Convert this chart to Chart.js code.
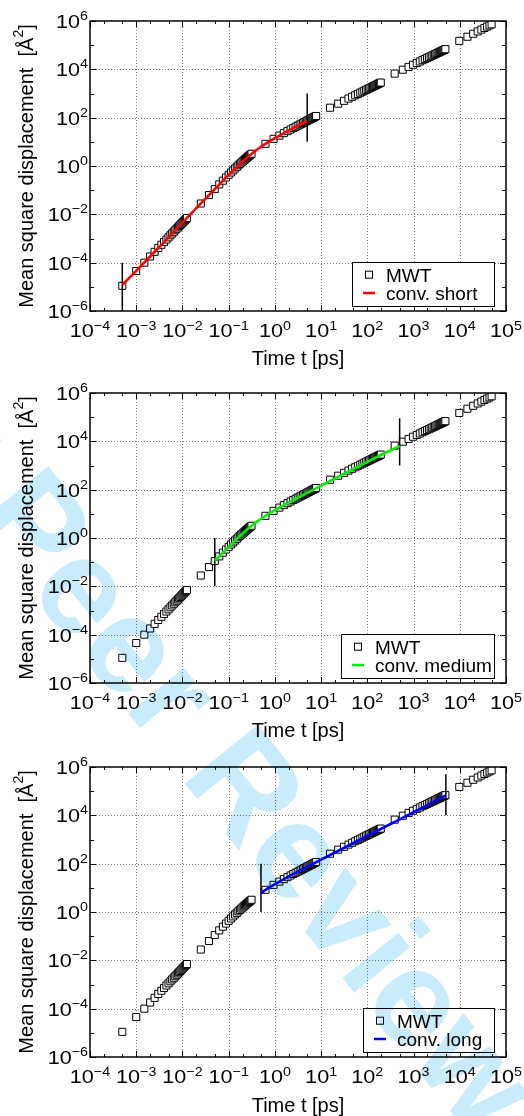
<!DOCTYPE html>
<html><head><meta charset="utf-8">
<script src="https://cdn.jsdelivr.net/npm/chart.js@4/dist/chart.umd.min.js"></script>
<style>
html,body{margin:0;padding:0;background:#fff}
body{width:524px;height:1116px;overflow:hidden;position:relative}
canvas.p{position:absolute;left:0}
#wm{position:absolute;left:0;top:0;pointer-events:none;mix-blend-mode:multiply}
</style></head><body>
<canvas class="p" id="c1" width="524" height="372" style="top:0"></canvas>
<canvas class="p" id="c2" width="524" height="372" style="top:372px"></canvas>
<canvas class="p" id="c3" width="524" height="370" style="top:746px"></canvas>
<canvas id="wm" width="524" height="1116"></canvas>
<script>
// ---------------- data ----------------
const mwtTime = [
  0.0005,0.001,0.0015,0.002,0.0025,0.003,0.0035,0.004,0.0045,0.005,0.0055,0.006,0.0065,0.007,0.0075,0.008,0.0085,0.009,0.0095,0.01,0.0105,0.011,0.0115,0.012,0.0125,
  0.025,0.0375,0.05,0.0625,0.075,0.0875,0.1,0.1125,0.125,0.1375,0.15,0.1625,0.175,0.1875,0.2,0.2125,0.225,0.2375,0.25,0.2625,0.275,0.2875,0.3,0.3125,
  0.625,0.9375,1.25,1.5625,1.875,2.1875,2.5,2.8125,3.125,3.4375,3.75,4.0625,4.375,4.6875,5,5.3125,5.625,5.9375,6.25,6.5625,6.875,7.1875,7.5,7.8125,
  15.6,23.4,31.3,39.1,46.9,54.7,62.5,70.3,78.1,85.9,93.8,101.6,109.4,117.2,125,132.8,140.6,148.4,156.3,164.1,171.9,179.7,187.5,195.3,
  391,586,781,977,1172,1367,1563,1758,1953,2148,2344,2539,2734,2930,3125,3320,3516,3711,3906,4102,4297,4492,4688,4883,
  9766,14648,19531,24414,29297,34180,39063,43945,48828
];
const mwtMsd = [
  1.1e-5,4.5e-5,1.0e-4,1.8e-4,2.8e-4,4.05e-4,5.5e-4,7.2e-4,9.1e-4,1.12e-3,1.36e-3,1.62e-3,1.9e-3,2.2e-3,2.53e-3,2.88e-3,3.25e-3,3.64e-3,4.06e-3,4.5e-3,4.96e-3,5.44e-3,5.95e-3,6.48e-3,7.03e-3,
  0.028,0.063,0.111,0.173,0.247,0.333,0.431,0.54,0.658,0.787,0.923,1.07,1.22,1.38,1.54,1.71,1.89,2.07,2.25,2.44,2.63,2.82,3.01,3.21,
  8.27,13.3,18.1,22.9,27.7,32.4,37.2,41.9,46.6,51.3,56.0,60.7,65.4,70.1,74.8,79.5,84.2,88.9,93.6,98.3,103,107.7,112.4,117.1,
  258,379,498,615,731,847,961,1074,1187,1300,1412,1523,1634,1744,1855,1964,2074,2183,2291,2400,2508,2616,2724,2832,
  6640,9660,12600,15500,18300,21100,23900,26600,29300,32000,34700,37400,40000,42600,45300,47900,50500,53000,55600,58200,60700,63300,65800,68300,
  150000,223500,296500,369300,441800,514200,586300,658300,730000
];
const shortTime = [0.0005,0.001,0.002,0.005,0.01,0.02,0.05,0.1,0.15,0.2,0.25,0.3,0.4,0.5,0.7,1,1.5,2,3,5];
const shortMsd  = [1.2e-5,4.6e-5,1.8e-4,1.12e-3,4.5e-3,0.018,0.111,0.431,0.923,1.54,2.25,3.01,4.61,6.24,9.48,14.2,22.0,29.6,44.7,73];
const mediumTime = [0.05,0.07,0.1,0.15,0.2,0.25,0.3,0.4,0.5,0.7,1,1.5,2,3,5,7,10,20,50,100,200,500];
const mediumMsd  = [0.115,0.216,0.431,0.923,1.54,2.25,3.01,4.61,6.24,9.48,14.2,22.0,29.6,44.5,74,102,146,290,715,1410,2790,6300];
const longTime = [0.5,0.7,1,1.5,2,3,5,7,10,20,50,100,200,500,1000,2000,5000];
const longMsd  = [6.1,9.48,14.2,22.0,29.6,44.5,74,102,146,290,715,1410,2790,6800,13400,26500,67000];
// window markers (vertical bars): time, lower and upper msd
const shortWinTime = [0.0005,5],   shortWinLow = [1e-6,10],  shortWinHigh = [1e-4,1000];
const mediumWinTime = [0.05,500],  mediumWinLow = [0.01,1000], mediumWinHigh = [1,90000];
const longWinTime = [0.5,5000],    longWinLow = [1,10000],   longWinHigh = [100,500000];
const xTickExp = [-4,-3,-2,-1,0,1,2,3,4,5];
const yTickExp = [-6,-4,-2,0,2,4,6];
const seriesNames = ['MWT','conv. short','conv. medium','conv. long'];

// ---------------- drawing helpers ----------------
const FONT = '"Liberation Sans", Arial, Helvetica, sans-serif';
function expStr(e){ return e < 0 ? '\u2212' + (-e) : String(e); }
function drawPow(ctx, ax, baseY, e, mode){
  const SX = 1.2;
  ctx.font = '18px ' + FONT;
  const wb = ctx.measureText('10').width * SX;
  ctx.font = '13px ' + FONT;
  const s = expStr(e);
  const we = ctx.measureText(s).width * 1.1;
  const total = wb + we;
  const start = mode === 'center' ? ax - total/2 : ax - total;
  ctx.save();
  ctx.fillStyle = '#000';
  ctx.textAlign = 'left'; ctx.textBaseline = 'alphabetic';
  ctx.translate(start, baseY);
  ctx.save(); ctx.scale(SX,1); ctx.font = '18px ' + FONT; ctx.fillText('10', 0, 0); ctx.restore();
  ctx.save(); ctx.translate(wb, mode === 'center' ? -7 : -8); ctx.scale(1.1,1); ctx.font = '13px ' + FONT; ctx.fillText(s, 0, 0); ctx.restore();
  ctx.restore();
}

const frame = {
  id: 'gnuFrame',
  beforeDatasetsDraw(chart){
    const {ctx, chartArea:a} = chart, x = chart.scales.x, y = chart.scales.y;
    ctx.save();
    ctx.strokeStyle = '#7a7a7a'; ctx.lineWidth = 1; ctx.setLineDash([1,2]);
    for (let e = -3; e <= 4; e++){
      const px = Math.round(x.getPixelForValue(Math.pow(10,e))) + 0.5;
      ctx.beginPath(); ctx.moveTo(px, a.top); ctx.lineTo(px, a.bottom); ctx.stroke();
    }
    for (let e = -4; e <= 4; e += 2){
      const py = Math.round(y.getPixelForValue(Math.pow(10,e))) + 0.5;
      ctx.beginPath(); ctx.moveTo(a.left, py); ctx.lineTo(a.right, py); ctx.stroke();
    }
    ctx.setLineDash([]);
    ctx.strokeStyle = '#000'; ctx.lineWidth = 1;
    const tk = (x1,y1,x2,y2) => { ctx.beginPath(); ctx.moveTo(x1,y1); ctx.lineTo(x2,y2); ctx.stroke(); };
    for (let e = -4; e <= 5; e++){
      const px = Math.round(x.getPixelForValue(Math.pow(10,e))) + 0.5;
      tk(px, a.bottom, px, a.bottom - 6); tk(px, a.top, px, a.top + 6);
      if (e < 5) for (const m of [2,5]){
        const q = Math.round(x.getPixelForValue(m*Math.pow(10,e))) + 0.5;
        tk(q, a.bottom, q, a.bottom - 3); tk(q, a.top, q, a.top + 3);
      }
    }
    for (let e = -6; e <= 6; e++){
      const py = Math.round(y.getPixelForValue(Math.pow(10,e))) + 0.5;
      const L = (e % 2 === 0) ? 6 : 4;
      tk(a.left, py, a.left + L, py); tk(a.right, py, a.right - L, py);
    }
    ctx.restore();
  },
  afterDatasetsDraw(chart){
    const {ctx, chartArea:a} = chart;
    ctx.save();
    ctx.strokeStyle = '#000'; ctx.lineWidth = 1.5;
    ctx.strokeRect(a.left, a.top, a.right - a.left, a.bottom - a.top);
    ctx.restore();
  },
  afterDraw(chart){
    const {ctx, chartArea:a} = chart, x = chart.scales.x, y = chart.scales.y;
    const o = chart.options.plugins.gnuFrame;
    ctx.save();
    for (const e of xTickExp) drawPow(ctx, x.getPixelForValue(Math.pow(10,e)), a.bottom + 26, e, 'center');
    for (const e of yTickExp) drawPow(ctx, a.left - 2, y.getPixelForValue(Math.pow(10,e)) + 7, e, 'right');
    ctx.fillStyle = '#000';
    ctx.font = '20px ' + FONT; ctx.textAlign = 'center'; ctx.textBaseline = 'alphabetic';
    ctx.fillText('Time t [ps]', (a.left + a.right)/2, a.bottom + o.xTitleGap);
    ctx.save();
    ctx.translate(33, (a.top + a.bottom)/2);
    ctx.rotate(-Math.PI/2);
    ctx.textAlign = 'left';
    const p1 = 'Mean square displacement  [\u00C5', p2 = '2', p3 = ']';
    ctx.font = '20px ' + FONT; const w1 = ctx.measureText(p1).width, w3 = ctx.measureText(p3).width;
    ctx.font = '14px ' + FONT; const w2 = ctx.measureText(p2).width;
    let sx = -(w1 + w2 + w3)/2;
    ctx.font = '20px ' + FONT; ctx.fillText(p1, sx, 0); sx += w1;
    ctx.font = '14px ' + FONT; ctx.fillText(p2, sx, -10); sx += w2;
    ctx.font = '20px ' + FONT; ctx.fillText(p3, sx, 0);
    ctx.restore();
    const bw = o.boxW, bh = 44;
    const right = a.right - 12, bottom = a.bottom - 5;
    const left = right - bw, top = bottom - bh;
    ctx.fillStyle = '#fff'; ctx.fillRect(left, top, bw, bh);
    ctx.strokeStyle = '#000'; ctx.lineWidth = 1;
    ctx.strokeRect(Math.round(left) + 0.5, Math.round(top) + 0.5, bw, bh);
    const mx = left + 17;
    ctx.fillStyle = '#fff';
    ctx.fillRect(mx - 3.5, top + 12.7 - 3.5, 7, 7);
    ctx.strokeRect(mx - 3.5, top + 12.7 - 3.5, 7, 7);
    ctx.strokeStyle = o.lineColor; ctx.lineWidth = 2.5;
    ctx.beginPath(); ctx.moveTo(mx - 6, top + 31); ctx.lineTo(mx + 6, top + 31); ctx.stroke();
    ctx.fillStyle = '#000'; ctx.font = '19px ' + FONT; ctx.textAlign = 'left';
    ctx.fillText(seriesNames[0], left + 34, top + 19.5);
    ctx.fillText(o.lineName, left + 34, top + 37.7);
    ctx.restore();
  }
};

function makeChart(id, lineT, lineY, lineName, lineColor, winT, winLo, winHi, boxW, xTitleGap){
  const datasets = [];
  datasets.push({
    label: lineName, data: lineT.map((t,i) => ({x:t, y:lineY[i]})),
    showLine: true, borderColor: lineColor, borderWidth: 2.6, pointRadius: 0, fill: false, order: 1
  });
  winT.forEach((t,i) => datasets.push({
    label: 'window', data: [{x:t, y:winLo[i]}, {x:t, y:winHi[i]}],
    showLine: true, borderColor: '#000', borderWidth: 1.5, pointRadius: 0, fill: false, order: 2
  }));
  datasets.push({
    label: seriesNames[0], data: mwtTime.map((t,i) => ({x:t, y:mwtMsd[i]})),
    showLine: false, pointStyle: 'rect', pointRadius: 5, pointBorderWidth: 1,
    pointBorderColor: '#000', pointBackgroundColor: '#fff', order: 3
  });
  return new Chart(document.getElementById(id), {
    type: 'scatter',
    data: { datasets },
    options: {
      responsive: false, animation: false, events: [],
      layout: { padding: { left: 90, right: 18, top: 21, bottom: id === 'c3' ? 59 : 61 } },
      plugins: { legend: { display: false }, tooltip: { enabled: false },
        gnuFrame: { boxW, lineName, lineColor, xTitleGap } },
      scales: {
        x: { type: 'logarithmic', min: 1e-4, max: 1e5, display: false },
        y: { type: 'logarithmic', min: 1e-6, max: 1e6, display: false }
      }
    },
    plugins: [frame]
  });
}

makeChart('c1', shortTime, shortMsd, seriesNames[1], '#ff0000', shortWinTime, shortWinLow, shortWinHigh, 142, 54);
makeChart('c2', mediumTime, mediumMsd, seriesNames[2], '#00ee00', mediumWinTime, mediumWinLow, mediumWinHigh, 153, 54);
makeChart('c3', longTime, longMsd, seriesNames[3], '#0000ff', longWinTime, longWinLow, longWinHigh, 131, 55);

// watermark overlay
(function(){
  const c = document.getElementById('wm'), ctx = c.getContext('2d');
  ctx.fillStyle = 'rgb(200,236,251)';
  ctx.font = 'bold 136px ' + FONT;
  ctx.translate(-30, 518);
  ctx.rotate(51 * Math.PI / 180);
  ctx.textAlign = 'left'; ctx.fillText('Peer Review', 0, 0);
  ctx.textAlign = 'right'; ctx.fillText('For ', 0, 0);
})();
</script>
</body></html>
